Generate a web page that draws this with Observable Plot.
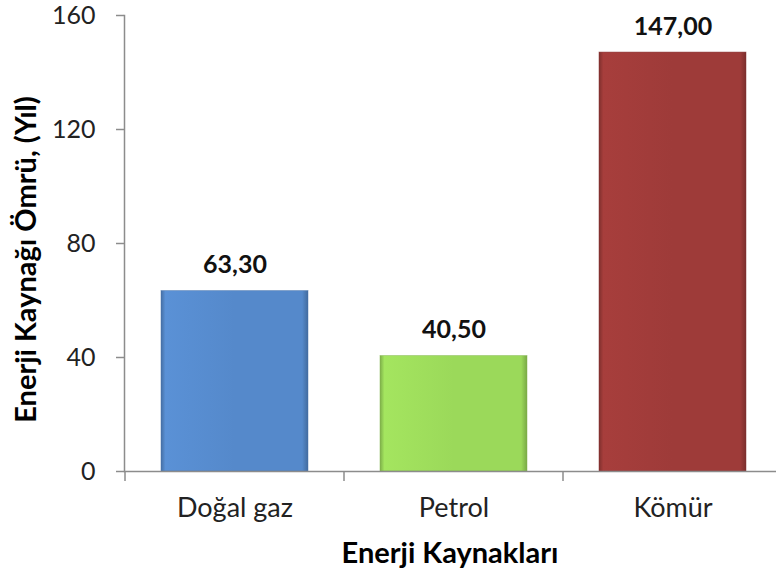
<!DOCTYPE html>
<html>
<head>
<meta charset="utf-8">
<script src="https://cdn.jsdelivr.net/npm/d3@7"></script>
<script src="https://cdn.jsdelivr.net/npm/@observablehq/plot@0.6"></script>
<style>
  html, body { margin: 0; padding: 0; background: #fff; }
</style>
</head>
<body>
<div id="chart"></div>
<script>
const kaynaklar = ["Doğal gaz", "Petrol", "Kömür"];
const omur = [63.30, 40.50, 147.00];
const renkler = ["#5589CB", "#9BD95A", "#9E3B39"];
const yTicks = [0, 40, 80, 120, 160];
const yBaslik = "Enerji Kaynağı Ömrü, (Yıl)";
const xBaslik = "Enerji Kaynakları";

const data = kaynaklar.map((k, i) => ({k, v: omur[i], fill: `url(#bevel${i})`}));

const defsMark = () => {
  const defs = d3.create("svg:defs");
  renkler.forEach((c, i) => {
    const base = d3.color(c);
    const g = defs.append("linearGradient").attr("id", `bevel${i}`)
      .attr("x1", 0).attr("x2", 1).attr("y1", 0).attr("y2", 0);
    g.append("stop").attr("offset", "0%").attr("stop-color", base.darker(0.6));
    g.append("stop").attr("offset", "3%").attr("stop-color", base.brighter(0.15));
    g.append("stop").attr("offset", "50%").attr("stop-color", base);
    g.append("stop").attr("offset", "96%").attr("stop-color", base);
    g.append("stop").attr("offset", "100%").attr("stop-color", base.darker(0.7));
  });
  return defs.node();
};

const boundaryTicks = (index, scales, values, dims) => {
  const x = scales.x;
  const y0 = scales.y(0);
  const g = d3.create("svg:g").attr("stroke", "#8c8c8c").attr("stroke-width", 1.5);
  const half = (x.step() - x.bandwidth()) / 2;
  kaynaklar.forEach(k => {
    const bx = x(k) - half;
    g.append("line").attr("x1", bx).attr("x2", bx).attr("y1", y0).attr("y2", y0 + 10);
  });
  return g.node();
};

const chart = Plot.plot({
  width: 776,
  height: 574,
  marginTop: 15,
  marginBottom: 103,
  marginLeft: 124,
  marginRight: -7,
  style: {fontFamily: "Lato, 'Open Sans', sans-serif", background: "#fff", overflow: "visible"},
  x: {domain: kaynaklar, paddingInner: 0.33, paddingOuter: 0.165, label: null, axis: null},
  y: {domain: [0, 160], label: null, axis: null},
  color: {type: "identity"},
  marks: [
    defsMark,
    Plot.barY(data, {x: "k", y: "v", fill: "fill", stroke: d => d3.color(renkler[kaynaklar.indexOf(d.k)]).darker(0.5), strokeWidth: 0.8, strokeOpacity: 0.6}),
    Plot.frame({anchor: "left", stroke: "#8c8c8c", strokeWidth: 1.5}),
    Plot.ruleY([0], {stroke: "#8c8c8c", strokeWidth: 1.5}),
    Plot.axisY({ticks: yTicks, tickSize: 8, tickPadding: 21, fontSize: 25, stroke: "#8c8c8c", strokeWidth: 1.5, fill: "#222", label: null}),
    Plot.axisX({tickSize: 0, tickPadding: 26, fontSize: 27, fill: "#222", label: null}),
    boundaryTicks,
    Plot.text(data, {x: "k", y: "v", text: d => d.v.toFixed(2).replace(".", ","), dy: -26, fontWeight: "bold", fontSize: 25, fill: "#111"}),
    Plot.text([yBaslik], {frameAnchor: "left", textAnchor: "middle", dx: -98, dy: 16, rotate: -90, fontWeight: "bold", fontSize: 29, fill: "#000"}),
    Plot.text([xBaslik], {frameAnchor: "bottom", lineAnchor: "middle", dx: -4, dy: 82, fontWeight: "bold", fontSize: 29, fill: "#000"})
  ]
});
document.getElementById("chart").appendChild(chart);
</script>
</body>
</html>
